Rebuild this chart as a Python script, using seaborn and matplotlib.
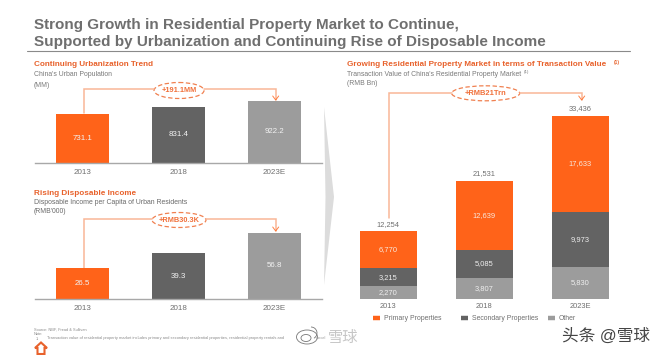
"""
Residential property market slide: urban population, disposable income, transaction value.
"""

from __future__ import annotations

import matplotlib

matplotlib.use("Agg")
import matplotlib.pyplot as plt
from matplotlib.patches import Arc, Ellipse, Polygon
import numpy as np
import pandas as pd
import seaborn as sns

YEARS = ["2013", "2018", "2023E"]
POPULATION = [731.1, 831.4, 922.2]
INCOME = [26.5, 39.3, 56.8]
PRIMARY = [6770, 12639, 17633]
SECONDARY = [3215, 5085, 9973]
OTHER = [2270, 3807, 5830]
TOTALS = ["12,254", "21,531", "33,436"]

ORANGE = "#FF6319"
DARK = "#636363"
GRAY = "#9C9C9C"
PALE = "#F9B797"
TEXT = "#6F6F6F"

W, H = 660, 355


def px_axes(fig, left, right, top, bottom):
    return fig.add_axes([left / W, 1 - bottom / H, (right - left) / W, (bottom - top) / H])


def simple_bars(fig, values, box, ymax, fmt):
    ax = px_axes(fig, *box)
    df = pd.DataFrame({"year": YEARS, "value": values})
    sns.barplot(data=df, x="year", y="value", hue="year", palette=[ORANGE, DARK, GRAY], width=0.555, legend=False, saturation=1, linewidth=0, ax=ax)
    ax.set_xlim(-0.5, 2.5)
    ax.set_ylim(0, ymax)
    style_axis(ax)
    for i, v in enumerate(values):
        ax.text(i, v / 2, fmt.format(v), ha="center", va="center", color="#F3F3F3", fontsize=5.7)
    return ax


def style_axis(ax):
    sns.despine(ax=ax, left=True)
    ax.spines["bottom"].set_color("#A8A8A8")
    ax.spines["bottom"].set_linewidth(1.0)
    ax.set_xlabel("")
    ax.set_ylabel("")
    ax.set_yticks([])
    ax.tick_params(axis="x", length=0, pad=4, labelsize=5.8, labelcolor=TEXT)
    ax.patch.set_alpha(0)


def stacked_bars(fig, box, ymax):
    ax = px_axes(fig, *box)
    primary = np.array(PRIMARY)
    secondary = np.array(SECONDARY)
    other = np.array(OTHER)
    sns.barplot(x=YEARS, y=other, color=GRAY, width=0.59, saturation=1, linewidth=0, ax=ax)
    sns.barplot(x=YEARS, y=secondary, bottom=other, color=DARK, width=0.59, saturation=1, linewidth=0, ax=ax)
    sns.barplot(x=YEARS, y=primary, bottom=other + secondary, color=ORANGE, width=0.59, saturation=1, linewidth=0, ax=ax)
    ax.set_xlim(-0.5, 2.5)
    ax.set_ylim(0, ymax)
    style_axis(ax)
    ax.spines["bottom"].set_visible(False)
    ax.tick_params(axis="x", pad=3.5, labelsize=5.4)
    for i in range(3):
        ax.text(i, other[i] / 2, f"{other[i]:,}", ha="center", va="center", color="#EFEFEF", fontsize=5.4)
        ax.text(i, other[i] + secondary[i] / 2, f"{secondary[i]:,}", ha="center", va="center", color="#EFEFEF", fontsize=5.4)
        ax.text(i, other[i] + secondary[i] + primary[i] / 2, f"{primary[i]:,}", ha="center", va="center", color="#F8E8DD", fontsize=5.4)
        ax.text(i, primary[i] + secondary[i] + other[i] + 1300, TOTALS[i], ha="center", va="center", color=TEXT, fontsize=5.4)
    return ax


def bracket(ov, x0, x1, y_top, y_start, y_end, cx, cy, rx, ry, label, size):
    ov.plot([x0, x0, cx - rx], [y_start, y_top, y_top], color=PALE, lw=1.1, solid_joinstyle="miter")
    ov.plot([cx + rx, x1, x1], [y_top, y_top, y_end], color=PALE, lw=1.1, solid_joinstyle="miter")
    ov.plot([x1 - 3, x1, x1 + 3], [y_end - 4, y_end, y_end - 4], color=ORANGE, lw=0.7, alpha=0.8)
    ov.add_patch(Ellipse((cx, cy), 2 * rx, 2 * ry, fill=False, ec="#F08050", lw=0.9, ls=(0, (3.5, 2))))
    ov.text(cx, cy, label, ha="center", va="center", color="#F0703A", fontsize=size, fontweight="bold")


def main():
    sns.set_theme(style="white")
    plt.rcParams["font.family"] = ["Liberation Sans", "Noto Sans CJK SC", "DejaVu Sans"]

    fig = plt.figure(figsize=(W / 100, H / 100), dpi=100, facecolor="white")

    ov = fig.add_axes([0, 0, 1, 1], zorder=-1)
    ov.set_xlim(0, W)
    ov.set_ylim(H, 0)
    ov.axis("off")

    # slide furniture
    ov.add_patch(Polygon([(324, 107), (334, 197), (324, 285), (325.5, 197)], fc="#DCDCDC", ec="none"))
    ov.plot([27, 630], [51, 51], color="#8A8A8A", lw=0.8)
    ov.text(34, 25, "Strong Growth in Residential Property Market to Continue,", color=TEXT, fontsize=11, fontweight="bold", va="center")
    ov.text(34, 42, "Supported by Urbanization and Continuing Rise of Disposable Income", color=TEXT, fontsize=11, fontweight="bold", va="center")

    ov.text(34, 64.5, "Continuing Urbanization Trend", color="#E8622C", fontsize=5.9, fontweight="bold", va="center")
    ov.text(34, 75, "China's Urban Population", color="#7A7A7A", fontsize=4.95, va="center")
    ov.text(34, 85.5, "(MM)", color="#7A7A7A", fontsize=4.95, va="center")

    ov.text(34, 193.5, "Rising Disposable Income", color="#E8622C", fontsize=5.9, fontweight="bold", va="center")
    ov.text(34, 203, "Disposable Income per Capita of Urban Residents", color="#6A6A6A", fontsize=4.95, va="center")
    ov.text(34, 211.5, "(RMB'000)", color="#6A6A6A", fontsize=4.95, va="center")

    ov.text(347, 64.5, "Growing Residential Property Market in terms of Transaction Value", color="#E8622C", fontsize=5.85, fontweight="bold", va="center")
    ov.text(614, 62.5, "(1)", color="#E8622C", fontsize=3.4, fontweight="bold", va="center")
    ov.text(347, 74.5, "Transaction Value of China's Residential Property Market", color="#7A7A7A", fontsize=4.95, va="center")
    ov.text(524, 72.5, "(1)", color="#7A7A7A", fontsize=3.2, va="center")
    ov.text(347, 83.5, "(RMB Bn)", color="#7A7A7A", fontsize=4.95, va="center")

    bracket(ov, 83.7, 275.7, 88.5, 113, 100, 179, 90.5, 25, 8, "+191.1MM", 5.3)
    bracket(ov, 83.7, 275.7, 219, 268, 231, 179, 220, 27, 7.5, "+RMB30.3K", 5.3)
    bracket(ov, 388.7, 581.7, 93, 218, 100, 485.7, 93.3, 34, 7.5, "+RMB21Trn", 5.4)

    # charts
    simple_bars(fig, POPULATION, (34.5, 322.5, 90, 163), 73 / 0.0677, "{:.1f}")
    simple_bars(fig, INCOME, (34.5, 322.5, 215, 299), 84 / 1.167, "{:.1f}")
    stacked_bars(fig, (340.3, 628.3, 95, 298.5), 203.5 / 0.005473)

    # legend
    for x, color, label in [(372.7, ORANGE, "Primary Properties"), (461, DARK, "Secondary Properties"), (548, GRAY, "Other")]:
        ov.plot([x, x + 7], [318, 318], color=color, lw=3.2, solid_capstyle="butt")
        ov.text(x + 11, 318.3, label, color=TEXT, fontsize=4.95, va="center")

    # footnotes, logo, watermarks
    ov.text(34, 330, "Source: NBF, Fread & Sullivan", color="#8A8A8A", fontsize=2.8, va="center")
    ov.text(34, 334, "Note:", color="#8A8A8A", fontsize=2.8, va="center")
    ov.text(36, 338.5, "1.", color="#8A8A8A", fontsize=2.8, va="center")
    ov.text(47, 338.5, "Transaction value of residential property market includes primary and secondary residential properties, residential property rentals and", color="#8A8A8A", fontsize=2.9, va="center")
    ov.text(316, 338.5, "parcel", color="#9A9A9A", fontsize=2.7, va="center")
    ov.add_patch(Polygon([(35, 348), (41, 342.5), (47, 348), (44.5, 348), (44.5, 354), (37.5, 354), (37.5, 348)], fc="none", ec="#E8622C", lw=1.5))
    ov.add_patch(Ellipse((307, 337), 21, 14, fill=False, ec="#777777", lw=0.6))
    ov.add_patch(Ellipse((306, 338), 10, 7, fill=False, ec="#777777", lw=0.6))
    ov.add_patch(Arc((311, 333), 12, 12, theta1=270, theta2=60, ec="#777777", lw=0.6))
    ov.text(343, 338, "雪球", color="#C6C6C6", fontsize=11, va="center", ha="center")
    ov.text(562, 336, "头条 @雪球", color="#444444", fontsize=12, va="center")

    fig.savefig("out.png", dpi=100, facecolor="white")
    plt.close(fig)


if __name__ == "__main__":
    main()
